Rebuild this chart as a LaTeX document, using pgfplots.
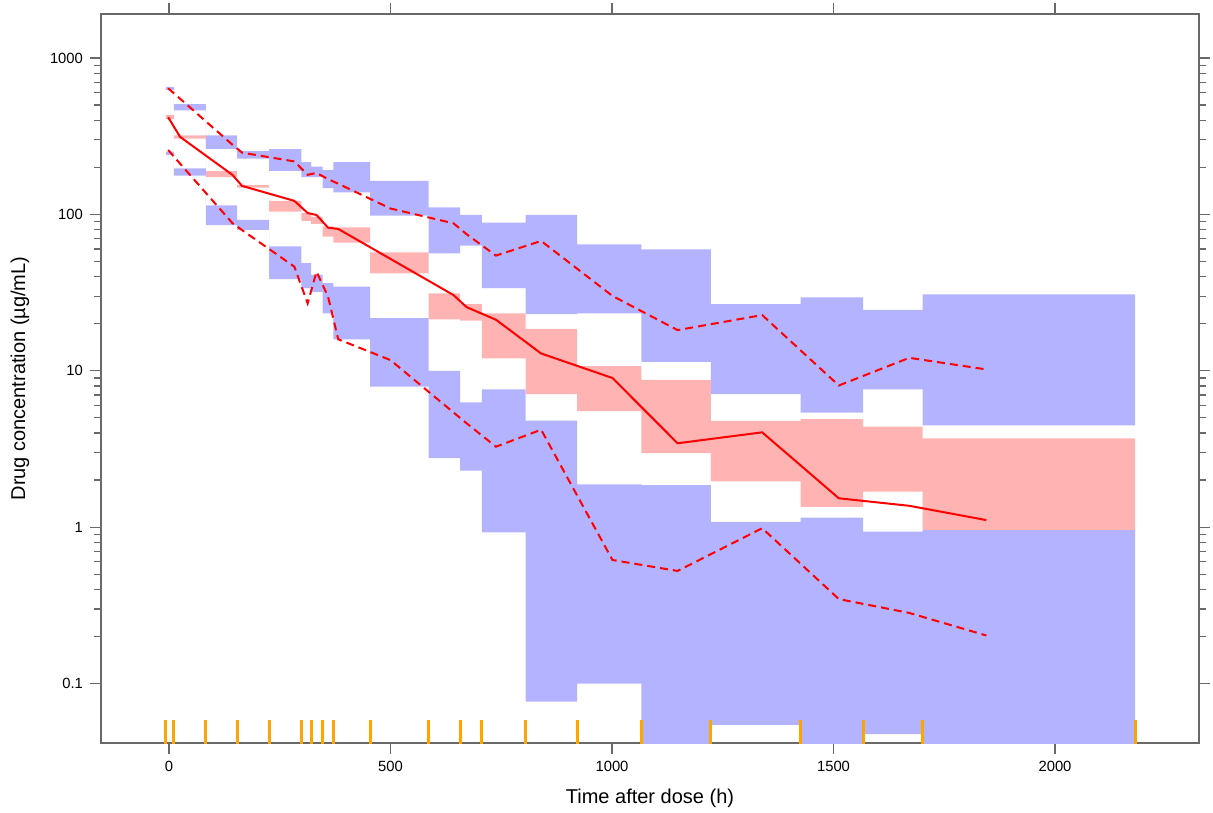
\documentclass[border=0pt]{standalone}
\usepackage{pgfplots}
\pgfplotsset{compat=1.18}
\usepackage{pgfplotstable}
\usepgfplotslibrary{fillbetween}
\usepackage{fontspec}
\setmainfont{Liberation Sans}

\definecolor{bandblue}{RGB}{179,179,255}
\definecolor{bandpink}{RGB}{255,179,179}
\definecolor{rugorange}{RGB}{255,165,0}
\definecolor{framegray}{RGB}{105,105,105}

% confidence intervals per bin: bin start, lower, upper (last row = end of last bin)
\pgfplotstableread{
t lo hi
-7 624 653
11 463 506
83 262 320
154 227 254
226 190 261
299 173 216
321 173 202
347 147 192
371 138 216
454 98.1 164
586 56.4 111
657 63.1 99.1
706 33.7 88.5
805 23.0 99.1
921 23.3 64.4
1066 11.4 59.8
1223 7.08 26.7
1426 5.40 29.5
1567 7.61 24.5
1701 4.48 30.8
2181 4.48 30.8
}\upperci

\pgfplotstableread{
t lo hi
-7 407 432
11 305 320
83 173 189
154 148 154
226 104 122
299 90.7 102
321 86.8 96.7
347 72.0 83.4
371 65.9 82.7
454 42.0 57.2
586 21.3 31.3
657 20.9 26.7
706 12.0 23.3
805 7.08 18.5
921 5.53 10.7
1066 2.97 8.73
1223 1.96 4.78
1426 1.35 4.90
1567 1.69 4.39
1701 0.96 3.70
2181 0.96 3.70
}\medianci

\pgfplotstableread{
t lo hi
-7 240 252
11 177 197
83 85.2 114
154 79.5 92.1
226 38.6 62.5
299 33.7 48.7
321 32.0 41.0
347 23.3 36.3
371 15.9 34.5
454 7.91 21.7
586 2.76 10.0
657 2.30 6.29
706 0.926 7.61
805 0.0766 4.80
921 0.100 1.88
1066 0.01 1.86
1223 0.0544 1.08
1426 0.01 1.15
1567 0.0476 0.936
1701 0.01 0.96
2181 0.01 0.96
}\lowerci

% observed percentiles
\pgfplotstableread{
t p05 p50 p95
-2 258 418 640
25 211 313 549
143 88 179 279
165 79.3 152 248
283 46.3 122 218
313 27.0 102 179
333 43.0 99.1 184
359 29.8 82.2 168
382 15.9 80.7 157
500 11.7 51.9 109
642 5.42 30.5 87.7
672 4.61 25.5 74.6
738 3.27 21.2 54.5
840 4.20 12.9 67.6
1001 0.617 8.99 30.1
1148 0.525 3.44 18.2
1339 0.985 4.04 22.7
1512 0.347 1.53 8.05
1671 0.283 1.37 12.1
1845 0.203 1.11 10.2
}\obs

\begin{document}
\begin{tikzpicture}
\begin{axis}[
  scale only axis,
  width=549pt, height=364.5pt,
  xmin=-153.5, xmax=2325,
  ymode=log, ymin=0.0417, ymax=1910,
  xtick={0,500,1000,1500,2000},
  ytick={0.1,1,10,100,1000},
  log ticks with fixed point,
  /pgf/number format/1000 sep={},
  /pgf/number format/assume math mode=true,
  tick align=outside,
  major tick length=5.5pt, minor tick length=3.5pt,
  axis line style={framegray, line width=0.6pt},
  every tick/.style={framegray, line width=0.6pt},
  tick label style={font=\fontsize{7.4}{8}\selectfont},
  label style={font=\fontsize{9.5}{11}\selectfont},
  xlabel={Time after dose (h)},
  ylabel={Drug concentration (µg/mL)},
  every axis x label/.style={at={(axis description cs:0.5,0)}, anchor=center, yshift=-27.5pt},
  every axis y label/.style={at={(axis description cs:0,0.5)}, anchor=center, rotate=90, yshift=40.5pt},
  clip marker paths=true,
]
\addplot[const plot, draw=none, forget plot, name path=ulo] table[x=t, y=lo] {\upperci};
\addplot[const plot, draw=none, forget plot, name path=uhi] table[x=t, y=hi] {\upperci};
\addplot[fill=bandblue, draw=none] fill between[of=ulo and uhi];

\addplot[const plot, draw=none, forget plot, name path=llo] table[x=t, y=lo] {\lowerci};
\addplot[const plot, draw=none, forget plot, name path=lhi] table[x=t, y=hi] {\lowerci};
\addplot[fill=bandblue, draw=none] fill between[of=llo and lhi];

\addplot[const plot, draw=none, forget plot, name path=mlo] table[x=t, y=lo] {\medianci};
\addplot[const plot, draw=none, forget plot, name path=mhi] table[x=t, y=hi] {\medianci};
\addplot[fill=bandpink, draw=none] fill between[of=mlo and mhi];

\addplot[red, line width=1pt, dash pattern=on 4pt off 2.5pt] table[x=t, y=p95] {\obs};
\addplot[red, line width=1pt] table[x=t, y=p50] {\obs};
\addplot[red, line width=1pt, dash pattern=on 4pt off 2.5pt] table[x=t, y=p05] {\obs};

% bin boundaries
\addplot[only marks, mark=|, mark size=11.5pt, mark options={draw=rugorange, line width=1.5pt}]
  coordinates {(-7,0.0417) (11,0.0417) (83,0.0417) (154,0.0417) (226,0.0417)
  (299,0.0417) (321,0.0417) (347,0.0417) (371,0.0417) (454,0.0417) (586,0.0417)
  (657,0.0417) (706,0.0417) (805,0.0417) (921,0.0417) (1066,0.0417) (1223,0.0417)
  (1426,0.0417) (1567,0.0417) (1701,0.0417) (2181,0.0417)};
\end{axis}
\path (current axis.south west) ++(-50.5pt,-34.5pt) coordinate (bbA);
\path (current axis.north east) ++(7pt,7pt) coordinate (bbB);
\pgfresetboundingbox
\path (bbA) rectangle (bbB);
\end{tikzpicture}
\end{document}
